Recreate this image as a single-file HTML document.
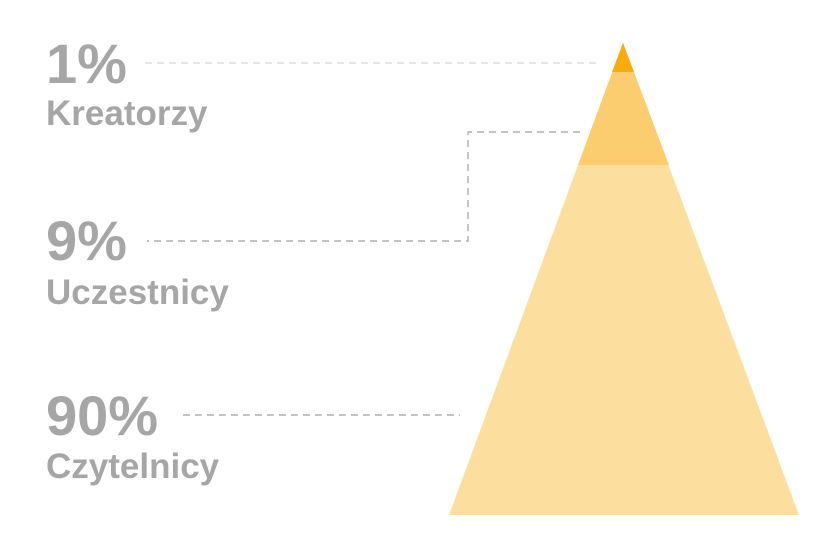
<!DOCTYPE html>
<html><head><style>
body{margin:0;width:833px;height:552px;background:#fff;position:relative;overflow:hidden;font-family:"Liberation Sans",sans-serif;font-weight:bold;color:#a6a6a6}
.t{position:absolute;left:46px;white-space:nowrap;line-height:1}
.p{font-size:56px;letter-spacing:0px}
.l{font-size:35px}
</style></head><body>
<svg width="833" height="552" style="position:absolute;left:0;top:0">
<polygon points="623,43 799,515 449,515" fill="#fcdf9f"/>
<polygon points="623,43 669,165 578,165" fill="#fbcd6e"/>
<polygon points="623,43 634,72 612,72" fill="#f7ab0c"/>
<g fill="none" stroke-width="1.2" stroke-dasharray="7,5">
<line x1="145" y1="63" x2="600" y2="63" stroke="#d8d8d8"/>
<polyline points="580,132 468,132 468,241 147,241" stroke="#a0a0a0"/>
<line x1="183" y1="415" x2="460" y2="415" stroke="#a0a0a0"/>
</g>
</svg>
<div class="t p" style="top:36px">1%</div>
<div class="t l" style="top:96px">Kreatorzy</div>
<div class="t p" style="top:213px">9%</div>
<div class="t l" style="top:275px">Uczestnicy</div>
<div class="t p" style="top:388px">90%</div>
<div class="t l" style="top:449px">Czytelnicy</div>
</body></html>
